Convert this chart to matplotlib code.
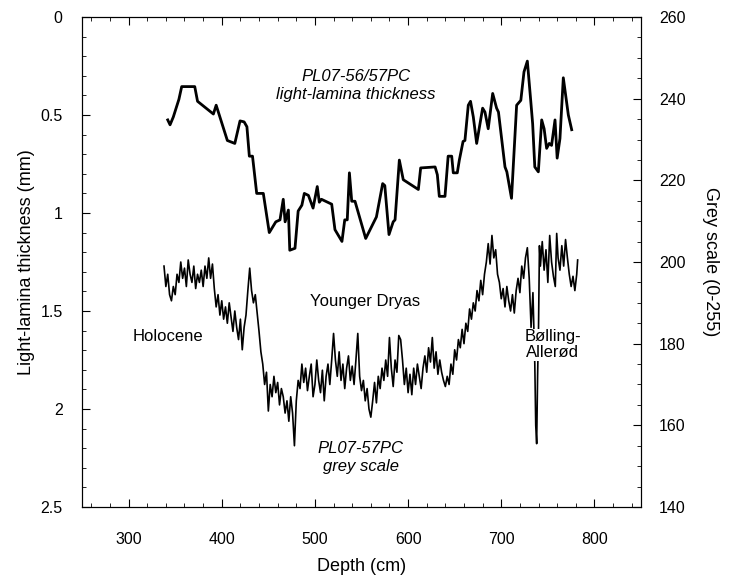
import numpy as np
import matplotlib
matplotlib.use("Agg")
import matplotlib.pyplot as plt
from matplotlib.ticker import MultipleLocator

plt.rcParams['font.family'] = ['Liberation Sans', 'DejaVu Sans']

# light-lamina thickness (mm), PL07-56/57PC
lam_depth = [342, 344.5, 348, 354, 357, 371, 374, 391, 394, 399, 406, 414, 419.6, 424,
             427, 429.6, 433, 437.5, 444.6, 451, 458, 462.5, 466, 468, 471.5, 473, 478.6,
             482, 486, 488.6, 493, 498, 502.5, 504.7, 507, 518, 521.5, 529, 532, 534.7,
             537, 539.5, 543, 554.5, 566, 572.7, 575, 579.5, 584, 586, 590.6, 594.8, 611,
             613.5, 629, 631.4, 633.5, 639.6, 643, 646.8, 648.5, 652.8, 655, 659, 661,
             664.6, 667, 670, 673.6, 680, 682.5, 686, 690.8, 695, 697, 704, 706, 711,
             716.5, 721, 724.4, 728, 731.6, 733.7, 736, 739.8, 743.4, 746, 748.7, 751.5,
             754, 757.7, 760, 763, 766.6, 772, 775.6]
lam_mm = [0.525, 0.55, 0.51, 0.42, 0.355, 0.355, 0.43, 0.495, 0.45, 0.525, 0.63, 0.645,
          0.53, 0.535, 0.56, 0.71, 0.71, 0.90, 0.90, 1.10, 1.045, 1.035, 0.93, 1.045,
          0.985, 1.19, 1.18, 0.99, 0.96, 0.90, 0.91, 0.975, 0.865, 0.945, 0.93, 0.955,
          1.085, 1.145, 1.035, 1.035, 0.795, 0.94, 0.94, 1.13, 1.02, 0.85, 0.86, 1.11,
          1.045, 1.035, 0.73, 0.83, 0.88, 0.77, 0.765, 0.805, 0.915, 0.915, 0.71, 0.71,
          0.795, 0.795, 0.73, 0.635, 0.63, 0.45, 0.43, 0.51, 0.645, 0.465, 0.485, 0.57,
          0.39, 0.465, 0.485, 0.765, 0.79, 0.925, 0.45, 0.425, 0.28, 0.225, 0.425, 0.545,
          0.765, 0.79, 0.525, 0.57, 0.67, 0.645, 0.655, 0.525, 0.72, 0.62, 0.31, 0.50,
          0.575]

# grey scale (0-255), PL07-57PC
grey_depth = list(range(338, 738, 2)) + [737, 738, 739, 740, 741, 742, 744, 746, 748,
                                          750, 752, 754, 756, 758, 759.5, 761, 763, 765,
                                          767, 769, 771, 773, 775, 777, 779, 781, 782]
grey_val = [
    199, 194, 197, 192, 190.5, 194, 192, 197, 195, 200,
    196, 198.5, 194, 200.5, 197, 195, 199, 193.5, 197, 195,
    198, 194, 199, 196, 201, 196, 199.5, 193.5, 189, 192,
    187, 190.5, 186, 189, 185, 190, 186.5, 183, 188, 184,
    181, 186, 178.5, 184, 187, 193, 198.5, 193, 190, 192,
    187.5, 183, 178, 175, 170, 173, 163.5, 170, 167, 172,
    168, 170.5, 165, 169, 167, 163, 166, 161, 167, 163,
    155, 166, 171, 169, 175, 170.5, 174, 168.5, 172, 175,
    167, 170, 176, 171, 168, 173.5, 166, 172, 175, 170,
    176, 182.5, 176, 172, 178, 171, 175, 169, 174, 177,
    171, 174.5, 170, 176, 182.5, 172, 168.5, 171, 166, 169,
    164, 162, 166, 170.5, 165.5, 172, 169, 174, 171, 176,
    172, 181.5, 174, 169.5, 176, 173, 182, 181, 176, 170,
    174, 168, 172.5, 167.5, 174, 170, 175, 172, 169, 174,
    177, 173, 179, 175.5, 181.5, 174, 178, 172.5, 176, 173,
    171, 169.5, 172, 170, 175, 172.5, 178.5, 176, 181, 179,
    183.5, 180, 185, 183, 188.5, 186, 190, 188, 193, 190.5,
    195.5, 192, 197, 200, 204.5, 199.5, 206.5, 201, 203, 197,
    195, 191, 193.5, 189, 194, 190.5, 188, 192, 187.5, 193,
    196, 192.5, 199, 196, 201, 203.5, 196, 184, 192.5,
    175,
    160, 155.5, 172, 184, 204, 199, 205, 198, 203,
    195, 206.5, 200, 196.5, 194, 207, 201, 198, 204,
    199, 205.5, 201, 197, 194, 196.5, 193, 197, 200.5]

fig = plt.figure(figsize=(7.29, 5.81), dpi=100)
ax = fig.add_axes([0.1125, 0.1274, 0.7668, 0.8433])
ax2 = ax.twinx()

ax.plot(lam_depth, lam_mm, color='black', lw=2.0, solid_joinstyle='round')
ax2.plot(grey_depth, grey_val, color='black', lw=1.2)

ax.set_xlim(250, 850)
ax.set_ylim(2.5, 0)
ax2.set_ylim(140, 260)

ax.xaxis.set_major_locator(MultipleLocator(100))
ax.xaxis.set_minor_locator(MultipleLocator(20))
ax.yaxis.set_minor_locator(MultipleLocator(0.1))
ax.set_yticks([0, 0.5, 1, 1.5, 2, 2.5])
ax.set_yticklabels(['0', '0.5', '1', '1.5', '2', '2.5'])
ax2.yaxis.set_major_locator(MultipleLocator(20))
ax2.yaxis.set_minor_locator(MultipleLocator(5))

ax.tick_params(axis='x', which='both', direction='in', top=True, labelsize=11.5, pad=18)
ax.tick_params(axis='y', which='both', direction='in', labelsize=11.5, pad=14)
ax.tick_params(which='major', length=6, width=0.8)
ax.tick_params(which='minor', length=3, width=0.6)
ax2.tick_params(which='both', direction='in', labelsize=11.5, pad=13)
ax2.tick_params(which='major', length=6, width=0.8)
ax2.tick_params(which='minor', length=3, width=0.6)

ax.set_xlabel('Depth (cm)', fontsize=13, labelpad=8)
ax.set_ylabel('Light-lamina thickness (mm)', fontsize=13, labelpad=4)
ax2.set_ylabel('Grey scale (0-255)', fontsize=13, rotation=270, labelpad=24)

ax.text(544, 0.347, 'PL07-56/57PC\nlight-lamina thickness', style='italic',
        fontsize=12, ha='center', va='center', linespacing=1.25)
ax.text(554, 1.45, 'Younger Dryas', fontsize=12, ha='center', va='center')
ax.text(342, 1.63, 'Holocene', fontsize=12, ha='center', va='center')
ax.text(549, 2.245, 'PL07-57PC\ngrey scale', style='italic',
        fontsize=12, ha='center', va='center', linespacing=1.25)
ax2.text(755, 179.7, 'Bølling-\nAllerød', fontsize=12, ha='center', va='center',
         linespacing=1.1, zorder=5,
         bbox=dict(facecolor='white', edgecolor='none', pad=0.5))

fig.savefig('out.png', dpi=100)
